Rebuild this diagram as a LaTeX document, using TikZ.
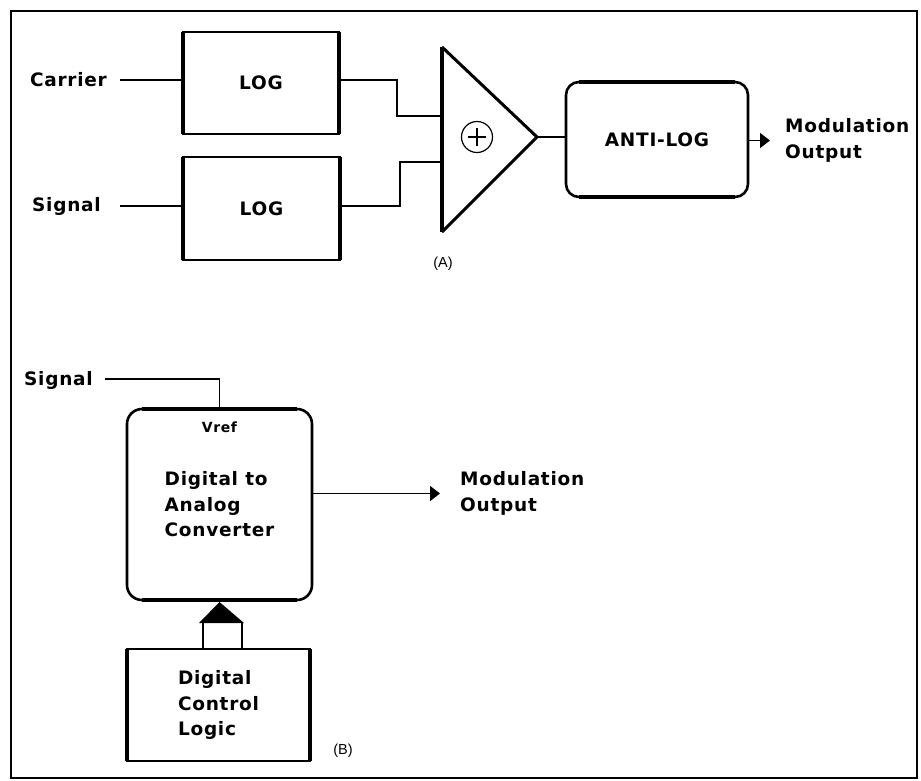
\documentclass[tikz,border=0pt]{standalone}
\usepackage{fontspec}
\setmainfont{DejaVu Sans}[BoldFeatures={LetterSpace=4}]
\newfontfamily\capfont{Liberation Sans}
\usetikzlibrary{arrows.meta}
\tikzset{
  txt/.style={font=\fontsize{18.5}{25.5}\selectfont\bfseries, inner sep=0pt},
  smalltxt/.style={font=\fontsize{14}{16}\selectfont\bfseries, inner sep=0pt},
  capl/.style={font=\capfont\fontsize{14.5}{16}\selectfont, inner sep=0pt},
  sqbox/.style={draw, line width=2.4pt, outer sep=0pt, txt, align=center},
  rbox/.style={draw, line width=2.6pt, outer sep=0pt, rounded corners=13pt, txt},
  wire/.style={line width=1.4pt},
  outarrow/.style={line width=1.5pt, -{Triangle[length=10pt,width=15pt]}},
  heavy/.style={line width=4pt},
}
\begin{document}
\begin{tikzpicture}[x=1pt,y=-1pt]
\useasboundingbox (0,0) rectangle (921,780);
% frame
\draw[line width=2.2pt] (11,11) rectangle (917,778);

% ---------- (A) ----------
\node[sqbox, minimum width=156pt, minimum height=102pt] (log1) at (261,83) {LOG};
\node[sqbox, minimum width=157pt, minimum height=103pt] (log2) at (261.5,208.5) {LOG};
\draw[heavy] (log1.north west) -- (log1.south west);
\draw[heavy] (log1.north east) -- (log1.south east);
\draw[heavy] (log2.north west) -- (log2.south west);
\draw[heavy] (log2.north east) -- (log2.south east);

\node[txt, anchor=east] (carrier) at (107,80) {Carrier};
\node[txt, anchor=east] (sig1) at (101,206) {Signal};
\coordinate (c1s) at (120,80);
\coordinate (s1s) at (120,206);
\draw[wire] (c1s) -- (log1.west |- c1s);
\draw[wire] (s1s) -- (log2.west |- s1s);

% summing amplifier
\coordinate (tl) at (442,47);
\coordinate (bl) at (442,232);
\coordinate (ap) at (537,137);
\draw[line width=3pt, line join=miter] (tl) -- (ap) -- (bl);
\draw[heavy] (tl) -- (bl);
\node[draw, circle, line width=1.2pt, minimum size=31pt, inner sep=0pt] (sum) at (477,137) {};
\draw[line width=1.2pt] ([xshift=-9pt]sum.center) -- ([xshift=9pt]sum.center);
\draw[line width=1.2pt] ([yshift=-9pt]sum.center) -- ([yshift=9pt]sum.center);

\coordinate (in1) at (442,116);
\coordinate (in2) at (442,162);
\coordinate (k1) at (397,116);
\coordinate (k2) at (400,162);
\draw[wire] (log1.east |- c1s) -| (k1) -- (in1);
\draw[wire] (log2.east |- s1s) -| (k2) -- (in2);

\node[rbox, minimum width=182pt, minimum height=115pt] (antilog) at (657,139.5) {ANTI-LOG};
\draw[heavy] ([xshift=13pt]antilog.north west) -- ([xshift=-13pt]antilog.north east);
\draw[heavy] ([xshift=13pt]antilog.south west) -- ([xshift=-13pt]antilog.south east);
\draw[wire] (ap) -- (antilog.west |- ap);

\node[txt, align=left, anchor=west] (mo1) at (785,140.5) {Modulation\\Output};
\draw[outarrow] (antilog.east |- mo1.west) -- ([xshift=-15pt]mo1.west);

\node[capl] (capA) at (443,264) {(A)};

% ---------- (B) ----------
\node[rbox, rounded corners=15pt, minimum width=185pt, minimum height=191pt, align=left] (dac) at (219.5,504.5) {Digital to\\Analog\\Converter};
\draw[heavy] ([xshift=15pt]dac.north west) -- ([xshift=-15pt]dac.north east);
\draw[heavy] ([xshift=15pt]dac.south west) -- ([xshift=-15pt]dac.south east);
\node[smalltxt, anchor=north] (vref) at ([yshift=-13pt]dac.north) {Vref};

\node[txt, anchor=east] (sig2) at (93,380) {Signal};
\coordinate (s2s) at (105,379);
\draw[wire] (s2s) -| (dac.north);

\node[txt, align=left, anchor=west] (mo2) at (460,493.5) {Modulation\\Output};
\draw[outarrow] (dac.east |- mo2.west) -- ([xshift=-20pt]mo2.west);

\node[sqbox, minimum width=183pt, minimum height=112pt, align=left] (dcl) at (218.5,705) {Digital\\Control\\Logic};
\draw[heavy] (dcl.north west) -- (dcl.south west);
\draw[heavy] (dcl.north east) -- (dcl.south east);

\coordinate (busL) at (203,623);
\coordinate (busR) at (242,623);
\draw[wire] (busL) -- (busL |- dcl.north);
\draw[wire] (busR) -- (busR |- dcl.north);
\fill (199,623) -- (244,623) -- ([yshift=-2pt]dac.south) -- cycle;

\node[capl] (capB) at (343,751) {(B)};
\end{tikzpicture}
\end{document}
